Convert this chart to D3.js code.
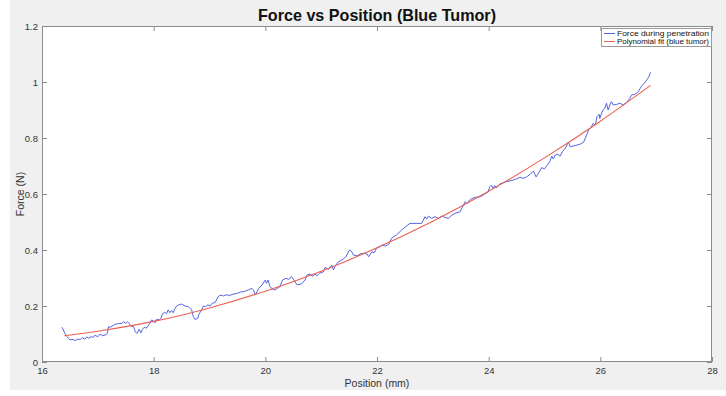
<!DOCTYPE html>
<html>
<head>
<meta charset="utf-8">
<script src="https://cdn.jsdelivr.net/npm/d3@7/dist/d3.min.js"></script>
<style>
  html, body { margin: 0; padding: 0; background: #ffffff; }
  svg { display: block; }
  text { font-family: "Liberation Sans", Arial, sans-serif; }
</style>
</head>
<body>
<svg id="chart" width="726" height="396"></svg>
<script>
// Measured force along the penetration path
const positionMm = [
  16.36, 16.41, 16.45, 16.47, 16.50, 16.56, 16.59, 16.64, 16.68, 16.72, 16.77, 16.80, 16.83, 16.88, 16.92, 16.95,
  17.00, 17.04, 17.08, 17.13, 17.17, 17.19, 17.22, 17.27, 17.31, 17.37, 17.43, 17.46, 17.50, 17.53, 17.56, 17.59,
  17.64, 17.67, 17.70, 17.74, 17.77, 17.80, 17.83, 17.87, 17.90, 17.93, 17.96, 17.99, 18.02, 18.05, 18.10, 18.13,
  18.15, 18.17, 18.20, 18.23, 18.26, 18.29, 18.32, 18.35, 18.38, 18.41, 18.45, 18.50, 18.56, 18.62, 18.68, 18.71,
  18.74, 18.79, 18.81, 18.86, 18.89, 18.93, 18.97, 19.01, 19.05, 19.10, 19.15, 19.19, 19.25, 19.30, 19.36, 19.42,
  19.49, 19.56, 19.63, 19.70, 19.76, 19.79, 19.82, 19.88, 19.94, 20.00, 20.02, 20.05, 20.08, 20.11, 20.17, 20.26,
  20.31, 20.37, 20.42, 20.47, 20.53, 20.57, 20.65, 20.71, 20.75, 20.80, 20.85, 20.89, 20.93, 20.97, 21.04, 21.07,
  21.13, 21.19, 21.22, 21.25, 21.31, 21.37, 21.44, 21.50, 21.52, 21.55, 21.58, 21.64, 21.70, 21.76, 21.82, 21.85,
  21.91, 21.95, 21.99, 22.05, 22.10, 22.15, 22.21, 22.26, 22.35, 22.44, 22.50, 22.59, 22.70, 22.80, 22.83, 22.86,
  22.89, 22.92, 22.98, 23.04, 23.10, 23.16, 23.22, 23.28, 23.34, 23.40, 23.49, 23.55, 23.58, 23.61, 23.67, 23.76,
  23.85, 23.93, 23.99, 24.02, 24.05, 24.08, 24.11, 24.14, 24.20, 24.32, 24.44, 24.50, 24.56, 24.62, 24.68, 24.74,
  24.80, 24.85, 24.89, 24.95, 25.00, 25.06, 25.10, 25.13, 25.16, 25.19, 25.24, 25.28, 25.32, 25.37, 25.43, 25.46,
  25.55, 25.64, 25.70, 25.76, 25.79, 25.83, 25.87, 25.91, 25.94, 25.98, 25.99, 26.03, 26.05, 26.08, 26.11, 26.14,
  26.17, 26.20, 26.23, 26.29, 26.35, 26.41, 26.47, 26.53, 26.56, 26.62, 26.68, 26.73, 26.77, 26.81, 26.85, 26.87,
  26.90
];
const forceN = [
  0.124, 0.102, 0.090, 0.085, 0.079, 0.081, 0.076, 0.082, 0.079, 0.087, 0.082, 0.090, 0.085, 0.090, 0.088, 0.096,
  0.090, 0.100, 0.094, 0.096, 0.102, 0.126, 0.124, 0.130, 0.135, 0.137, 0.138, 0.144, 0.138, 0.144, 0.138, 0.129,
  0.126, 0.108, 0.102, 0.117, 0.104, 0.117, 0.124, 0.121, 0.129, 0.138, 0.150, 0.148, 0.140, 0.152, 0.150, 0.156,
  0.168, 0.174, 0.178, 0.172, 0.186, 0.176, 0.184, 0.176, 0.190, 0.200, 0.204, 0.207, 0.200, 0.198, 0.186, 0.162,
  0.152, 0.156, 0.171, 0.186, 0.200, 0.198, 0.204, 0.200, 0.210, 0.212, 0.232, 0.239, 0.236, 0.240, 0.238, 0.242,
  0.245, 0.250, 0.252, 0.258, 0.263, 0.257, 0.239, 0.262, 0.275, 0.293, 0.281, 0.293, 0.271, 0.263, 0.257, 0.269,
  0.293, 0.299, 0.295, 0.305, 0.287, 0.275, 0.279, 0.293, 0.311, 0.314, 0.306, 0.314, 0.308, 0.317, 0.322, 0.338,
  0.331, 0.346, 0.329, 0.343, 0.358, 0.364, 0.375, 0.398, 0.400, 0.393, 0.382, 0.379, 0.386, 0.388, 0.386, 0.376,
  0.394, 0.390, 0.406, 0.412, 0.418, 0.414, 0.420, 0.442, 0.454, 0.471, 0.481, 0.495, 0.495, 0.495, 0.507, 0.519,
  0.510, 0.521, 0.513, 0.519, 0.513, 0.521, 0.516, 0.513, 0.525, 0.531, 0.537, 0.561, 0.573, 0.565, 0.581, 0.588,
  0.590, 0.600, 0.608, 0.626, 0.632, 0.620, 0.630, 0.622, 0.636, 0.644, 0.650, 0.654, 0.660, 0.656, 0.661, 0.670,
  0.682, 0.661, 0.674, 0.694, 0.690, 0.706, 0.718, 0.735, 0.725, 0.739, 0.742, 0.735, 0.751, 0.763, 0.785, 0.769,
  0.773, 0.778, 0.785, 0.813, 0.829, 0.837, 0.852, 0.846, 0.876, 0.885, 0.870, 0.892, 0.900, 0.906, 0.924, 0.900,
  0.918, 0.930, 0.918, 0.920, 0.924, 0.918, 0.927, 0.942, 0.954, 0.956, 0.965, 0.983, 0.992, 1.001, 1.013, 1.019,
  1.035
];

// Polynomial fit evaluated along the same range
const fitPositionMm = [16.4, 17, 18, 19, 20, 21, 22, 23, 24, 25, 26, 26.9];
const fitForceN     = [0.094, 0.110, 0.145, 0.193, 0.253, 0.324, 0.408, 0.503, 0.610, 0.729, 0.860, 0.988];

const xTickValues = [16, 18, 20, 22, 24, 26, 28];
const yTickValues = [0, 0.2, 0.4, 0.6, 0.8, 1, 1.2];
const seriesNames = ["Force during penetration", "Polynomial fit (blue tumor)"];

const W = 726, H = 396;
const plot = { left: 42, right: 712, top: 26, bottom: 362 };
const blue = "#5366e2", red = "#ec5f53";
const axisColor = "#8c8c8c", labelColor = "#333333";

const svg = d3.select("#chart");

// figure background
svg.append("rect").attr("x", 10).attr("y", 0).attr("width", W - 10).attr("height", H - 6).attr("fill", "#f0f0f0");
svg.append("rect").attr("x", plot.left).attr("y", plot.top)
  .attr("width", plot.right - plot.left).attr("height", plot.bottom - plot.top).attr("fill", "#ffffff");

const x = d3.scaleLinear().domain([16, 28]).range([plot.left, plot.right]);
const y = d3.scaleLinear().domain([0, 1.2]).range([plot.bottom, plot.top]);

// ticks point inward on all four sides
function styleAxis(g) {
  g.select(".domain").remove();
  g.selectAll(".tick line").attr("stroke", axisColor);
  g.selectAll(".tick text").attr("fill", labelColor).style("font-size", "9.5px");
}
svg.append("g").attr("transform", `translate(0,${plot.bottom})`)
  .call(d3.axisBottom(x).tickValues(xTickValues).tickSizeInner(-5).tickSizeOuter(0).tickPadding(5).tickFormat(d3.format("d")))
  .call(styleAxis);
svg.append("g").attr("transform", `translate(${plot.left},0)`)
  .call(d3.axisLeft(y).tickValues(yTickValues).tickSizeInner(-5).tickSizeOuter(0).tickPadding(4).tickFormat(d => String(+d.toFixed(1))))
  .call(styleAxis);
svg.append("g").attr("transform", `translate(0,${plot.top})`)
  .call(d3.axisTop(x).tickValues(xTickValues).tickSizeInner(-5).tickSizeOuter(0).tickFormat(""))
  .call(styleAxis);
svg.append("g").attr("transform", `translate(${plot.right},0)`)
  .call(d3.axisRight(y).tickValues(yTickValues).tickSizeInner(-5).tickSizeOuter(0).tickFormat(""))
  .call(styleAxis);

// plot box
svg.append("rect").attr("x", plot.left + 0.5).attr("y", plot.top + 0.5)
  .attr("width", plot.right - plot.left - 1).attr("height", plot.bottom - plot.top - 1)
  .attr("fill", "none").attr("stroke", axisColor).attr("stroke-width", 1);

// measured force trace
const measured = positionMm.map((p, i) => [p, forceN[i]]);
svg.append("path").datum(measured)
  .attr("fill", "none").attr("stroke", blue).attr("stroke-width", 1).attr("stroke-linejoin", "round")
  .attr("d", d3.line().x(d => x(d[0])).y(d => y(d[1])));

// fitted curve
const fitted = fitPositionMm.map((p, i) => [p, fitForceN[i]]);
svg.append("path").datum(fitted)
  .attr("fill", "none").attr("stroke", red).attr("stroke-width", 1.1)
  .attr("d", d3.line().curve(d3.curveNatural).x(d => x(d[0])).y(d => y(d[1])));

// title and axis labels
svg.append("text").attr("x", (plot.left + plot.right) / 2).attr("y", 21)
  .attr("text-anchor", "middle").attr("fill", "#111").style("font-size", "17px").style("font-weight", "bold")
  .attr("textLength", 238).attr("lengthAdjust", "spacingAndGlyphs")
  .text("Force vs Position (Blue Tumor)");
svg.append("text").attr("x", (plot.left + plot.right) / 2).attr("y", 387)
  .attr("text-anchor", "middle").attr("fill", labelColor).style("font-size", "10.5px")
  .text("Position (mm)");
svg.append("text").attr("transform", `translate(24,${(plot.top + plot.bottom) / 2}) rotate(-90)`)
  .attr("text-anchor", "middle").attr("fill", labelColor).style("font-size", "10.5px")
  .text("Force (N)");

// legend
const lg = svg.append("g").attr("transform", "translate(601,28)");
lg.append("rect").attr("x", 0.5).attr("y", 0.5).attr("width", 110).attr("height", 18)
  .attr("fill", "#ffffff").attr("stroke", "#9a9a9a");
[blue, red].forEach((c, i) => {
  const yy = 5.5 + i * 8;
  lg.append("line").attr("x1", 3).attr("x2", 14).attr("y1", yy).attr("y2", yy).attr("stroke", c).attr("stroke-width", 1);
  lg.append("text").attr("x", 16).attr("y", yy + 2.8).attr("fill", "#111").style("font-size", "8px")
    .attr("textLength", 92).attr("lengthAdjust", "spacingAndGlyphs").text(seriesNames[i]);
});
</script>
</body>
</html>
